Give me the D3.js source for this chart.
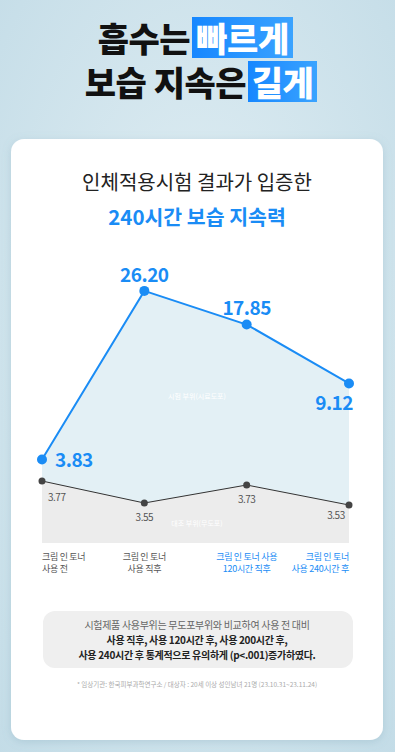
<!DOCTYPE html>
<html>
<head>
<meta charset="utf-8">
<script src="https://cdn.jsdelivr.net/npm/d3@7"></script>
<style>
  html, body { margin: 0; padding: 0; background: #d3e6ee; }
  svg { display: block; font-family: "Noto Sans CJK KR", "Noto Sans", sans-serif; }
</style>
</head>
<body>
<div id="chart"></div>
<script>
// data
var stages = ["크림 인 토너 사용 전", "크림 인 토너 사용 직후", "크림 인 토너 사용 120시간 직후", "크림 인 토너 사용 240시간 후"];
var stage_lines = [["크림 인 토너", "사용 전"], ["크림 인 토너", "사용 직후"], ["크림 인 토너 사용", "120시간 직후"], ["크림 인 토너", "사용 240시간 후"]];
var test_values = [3.83, 26.20, 17.85, 9.12];
var control_values = [3.77, 3.55, 3.73, 3.53];
var test_name = "시험 부위(시료도포)";
var control_name = "대조 부위(무도포)";

var W = 395, H = 752;
var blue = "#1a8cf5";
var chart_bottom = 543;

var svg = d3.select("#chart").append("svg")
            .attr("width", W)
            .attr("height", H);

var defs = svg.append("defs");

var bg = defs.append("radialGradient").attr("id", "bg")
             .attr("cx", "50%").attr("cy", "45%").attr("r", "75%");
bg.append("stop").attr("offset", "0%").attr("stop-color", "#e2eff4");
bg.append("stop").attr("offset", "100%").attr("stop-color", "#c3dce7");

var boxGrad = defs.append("linearGradient").attr("id", "boxGrad");
boxGrad.append("stop").attr("offset", "0%").attr("stop-color", "#1687ff");
boxGrad.append("stop").attr("offset", "100%").attr("stop-color", "#3aa3ff");

var shadow = defs.append("filter").attr("id", "shadow")
                 .attr("x", "-10%").attr("y", "-10%").attr("width", "120%").attr("height", "120%");
shadow.append("feDropShadow").attr("dx", 0).attr("dy", 2).attr("stdDeviation", 4)
      .attr("flood-color", "#6a94a8").attr("flood-opacity", 0.25);

svg.append("rect").attr("width", W).attr("height", H).attr("fill", "url(#bg)");

// headline: plain words end where the blue box starts
function headline(y, plain, boxed, boxX, boxW) {
    svg.append("rect")
       .attr("x", boxX).attr("y", y - 35)
       .attr("width", boxW).attr("height", 41)
       .attr("fill", "url(#boxGrad)");
    svg.append("text")
       .attr("x", boxX - 2).attr("y", y)
       .attr("text-anchor", "end")
       .attr("fill", "#111")
       .style("font-size", "34px")
       .style("font-weight", 900)
       .style("letter-spacing", "-0.5px")
       .text(plain);
    svg.append("text")
       .attr("x", boxX + boxW / 2).attr("y", y)
       .attr("text-anchor", "middle")
       .attr("fill", "#fff")
       .style("font-size", "34px")
       .style("font-weight", 900)
       .style("letter-spacing", "-0.5px")
       .text(boxed);
}
headline(52, "흡수는", "빠르게", 192, 101);
headline(96, "보습 지속은", "길게", 248, 69);

// card
svg.append("rect")
   .attr("x", 11).attr("y", 139)
   .attr("width", 372).attr("height", 601)
   .attr("rx", 13)
   .attr("fill", "#fff")
   .attr("filter", "url(#shadow)");

svg.append("text")
   .attr("x", 197).attr("y", 190)
   .attr("text-anchor", "middle")
   .attr("fill", "#222")
   .style("font-size", "20px")
   .text("인체적용시험 결과가 입증한");

svg.append("text")
   .attr("x", 197).attr("y", 225)
   .attr("text-anchor", "middle")
   .attr("fill", blue)
   .style("font-size", "20.5px")
   .style("font-weight", 700)
   .text("240시간 보습 지속력");

// scales
var xscale = d3.scalePoint()
               .domain(stages)
               .range([42, 349]);

var yscale_test = d3.scaleLog()
                    .domain([3, 30])
                    .range([481, 279]);

var yscale_control = d3.scaleLinear()
                       .domain([3.5, 3.8])
                       .range([508, 478]);

var test_data = stages.map(function(s, i) { return {stage: s, value: test_values[i]}; });
var control_data = stages.map(function(s, i) { return {stage: s, value: control_values[i]}; });

var g = svg.append("g");

// areas
g.append("path")
 .datum(test_data)
 .attr("fill", "#e3f0f5")
 .attr("d", d3.area()
              .x(function(d) { return xscale(d.stage); })
              .y0(chart_bottom)
              .y1(function(d) { return yscale_test(d.value); }));

g.append("path")
 .datum(control_data)
 .attr("fill", "#ececec")
 .attr("d", d3.area()
              .x(function(d) { return xscale(d.stage); })
              .y0(chart_bottom)
              .y1(function(d) { return yscale_control(d.value); }));

// series names inside the areas
g.append("text")
 .attr("x", 197).attr("y", 399)
 .attr("text-anchor", "middle")
 .attr("fill", "#fff")
 .style("font-size", "7px")
 .text(test_name);

g.append("text")
 .attr("x", 197).attr("y", 526)
 .attr("text-anchor", "middle")
 .attr("fill", "#fff")
 .style("font-size", "7px")
 .text(control_name);

// control line
g.append("path")
 .datum(control_data)
 .attr("fill", "none")
 .attr("stroke", "#333")
 .attr("stroke-width", 1)
 .attr("d", d3.line()
              .x(function(d) { return xscale(d.stage); })
              .y(function(d) { return yscale_control(d.value); }));

g.selectAll(".cdot")
 .data(control_data)
 .enter()
 .append("circle")
 .attr("class", "cdot")
 .attr("cx", function(d) { return xscale(d.stage); })
 .attr("cy", function(d) { return yscale_control(d.value); })
 .attr("r", 3.5)
 .attr("fill", "#444");

// control labels: offset depends on position
var control_dx = [6, 0, 0, -13];
var control_dy = [20, 18, 18, 14];
var control_anchor = ["start", "middle", "middle", "middle"];
g.selectAll(".clabel")
 .data(control_data)
 .enter()
 .append("text")
 .attr("class", "clabel")
 .attr("x", function(d, i) { return xscale(d.stage) + control_dx[i]; })
 .attr("y", function(d, i) { return yscale_control(d.value) + control_dy[i]; })
 .attr("text-anchor", function(d, i) { return control_anchor[i]; })
 .attr("fill", "#555")
 .style("font-size", "10px")
 .style("letter-spacing", "-0.5px")
 .text(function(d) { return d.value.toFixed(2); });

// test line
g.append("path")
 .datum(test_data)
 .attr("fill", "none")
 .attr("stroke", blue)
 .attr("stroke-width", 2)
 .attr("d", d3.line()
              .x(function(d) { return xscale(d.stage); })
              .y(function(d) { return yscale_test(d.value); }));

g.selectAll(".tdot")
 .data(test_data)
 .enter()
 .append("circle")
 .attr("class", "tdot")
 .attr("cx", function(d) { return xscale(d.stage); })
 .attr("cy", function(d) { return yscale_test(d.value); })
 .attr("r", 5)
 .attr("fill", blue);

var test_dx = [13, 0, 0, 4];
var test_dy = [7, -9, -10, 27];
var test_anchor = ["start", "middle", "middle", "end"];
g.selectAll(".tlabel")
 .data(test_data)
 .enter()
 .append("text")
 .attr("class", "tlabel")
 .attr("x", function(d, i) { return xscale(d.stage) + test_dx[i]; })
 .attr("y", function(d, i) { return yscale_test(d.value) + test_dy[i]; })
 .attr("text-anchor", function(d, i) { return test_anchor[i]; })
 .attr("fill", blue)
 .style("font-size", "19px")
 .style("font-weight", 700)
 .style("letter-spacing", "-0.5px")
 .text(function(d) { return d.value.toFixed(2); });

// x axis labels
var x_anchor = ["start", "middle", "middle", "end"];
var x_color = ["#555", "#555", blue, blue];
var xlabels = g.selectAll(".xlabel")
               .data(stages)
               .enter()
               .append("text")
               .attr("class", "xlabel")
               .attr("text-anchor", function(d, i) { return x_anchor[i]; })
               .attr("fill", function(d, i) { return x_color[i]; })
               .style("font-size", "9px")
               .style("letter-spacing", "-0.3px");

xlabels.selectAll("tspan")
       .data(function(d, i) { return stage_lines[i].map(function(l) { return {stage: d, line: l}; }); })
       .enter()
       .append("tspan")
       .attr("x", function(d) { return xscale(d.stage); })
       .attr("y", function(d, j) { return 560 + j * 12; })
       .text(function(d) { return d.line; });

// note box
svg.append("rect")
   .attr("x", 43).attr("y", 611)
   .attr("width", 310).attr("height", 57)
   .attr("rx", 12)
   .attr("fill", "#efefef");

var note_lines = [
    {text: "시험제품 사용부위는 무도포부위와 비교하여 사용 전 대비", bold: false},
    {text: "사용 직후, 사용 120시간 후, 사용 200시간 후,", bold: true},
    {text: "사용 240시간 후 통계적으로 유의하게 (p<.001)증가하였다.", bold: true}
];
svg.selectAll(".note")
   .data(note_lines)
   .enter()
   .append("text")
   .attr("class", "note")
   .attr("x", 197)
   .attr("y", function(d, i) { return 629 + i * 15; })
   .attr("text-anchor", "middle")
   .attr("fill", function(d) { return d.bold ? "#222" : "#666"; })
   .style("font-size", "10px")
   .style("font-weight", function(d) { return d.bold ? 700 : 400; })
   .style("letter-spacing", "-0.3px")
   .text(function(d) { return d.text; });

svg.append("text")
   .attr("x", 197).attr("y", 687)
   .attr("text-anchor", "middle")
   .attr("fill", "#aaa")
   .style("font-size", "6.5px")
   .text("* 임상기관: 한국피부과학연구소 / 대상자 : 20세 이상 성인남녀 21명 (23.10.31~23.11.24)");
</script>
</body>
</html>
